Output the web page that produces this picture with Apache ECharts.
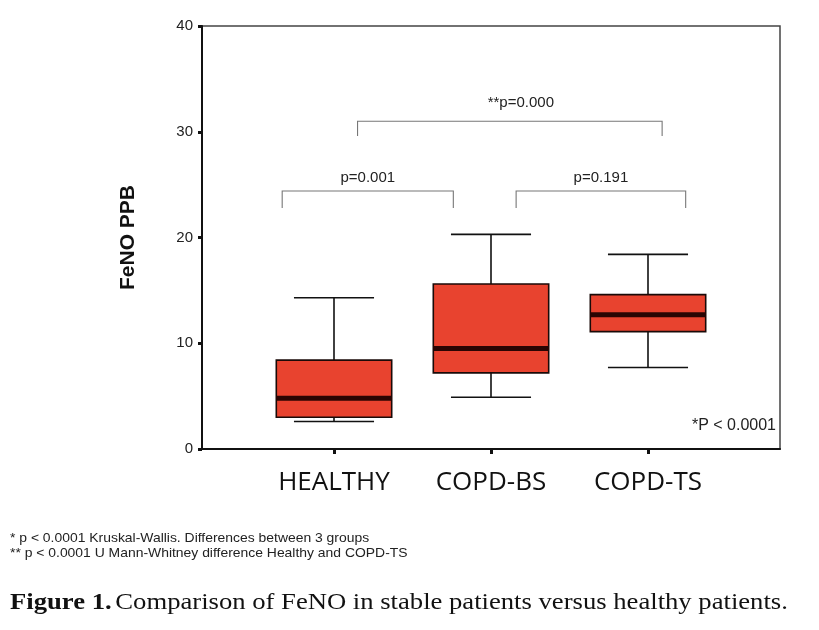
<!DOCTYPE html>
<html>
<head>
<meta charset="utf-8">
<script src="https://cdn.jsdelivr.net/npm/echarts@6/dist/echarts.min.js"></script>
<style>
  html, body { margin: 0; padding: 0; background: #fff; }
  #main { width: 819px; height: 630px; }
</style>
</head>
<body>
<div id="main"></div>
<script>
// groups and their box statistics (FeNO, ppb)
const categories = ['HEALTHY', 'COPD-BS', 'COPD-TS'];
const minVals    = [2.6, 4.9, 7.7];
const q1Vals     = [3.0, 7.2, 11.1];
const medianVals = [4.8, 9.5, 12.7];
const q3Vals     = [8.4, 15.6, 14.6];
const maxVals    = [14.3, 20.3, 18.4];
const yTicks     = [0, 10, 20, 30, 40];

// comparison brackets: [fromGroup, fromShift, toGroup, toShift, barY, endY, labelY, labelShift]
const bracketLabels = ['p=0.001', 'p=0.191', '**p=0.000'];
const brackets = [
  [0, -0.33, 1, -0.24, 24.4, 22.8, 25.6, 0],
  [1, 0.16, 2, 0.24, 24.4, 22.8, 25.6, 0],
  [0, 0.15, 2, 0.09, 31.0, 29.6, 32.7, 0.07]
];

const boxData = categories.map((c, i) =>
  [i, minVals[i], q1Vals[i], medianVals[i], q3Vals[i], maxVals[i]]);

const chart = echarts.init(document.getElementById('main'));

function renderBox(params, api) {
  const i = api.value(0);
  const band = api.size([1, 0])[0];
  const boxW = band * 0.735;
  const capW = band * 0.51;
  const cx = api.coord([i, 0])[0];
  const y = k => api.coord([i, api.value(k)])[1];
  const yMin = y(1), yQ1 = y(2), yMed = y(3), yQ3 = y(4), yMax = y(5);
  const line = { stroke: '#111', lineWidth: 1.6 };
  return {
    type: 'group',
    children: [
      { type: 'line', shape: { x1: cx, y1: yMax, x2: cx, y2: yQ3 }, style: line },
      { type: 'line', shape: { x1: cx, y1: yQ1, x2: cx, y2: yMin }, style: line },
      { type: 'line', shape: { x1: cx - capW / 2, y1: yMax, x2: cx + capW / 2, y2: yMax }, style: line },
      { type: 'line', shape: { x1: cx - capW / 2, y1: yMin, x2: cx + capW / 2, y2: yMin }, style: line },
      { type: 'rect', shape: { x: cx - boxW / 2, y: yQ3, width: boxW, height: yQ1 - yQ3 },
        style: { fill: '#e8432f', stroke: '#1a0a08', lineWidth: 1.6 } },
      { type: 'line', shape: { x1: cx - boxW / 2, y1: yMed, x2: cx + boxW / 2, y2: yMed },
        style: { stroke: '#2a0503', lineWidth: 5 } }
    ]
  };
}

function renderBracket(params, api) {
  const band = api.size([1, 0])[0];
  const x1 = api.coord([api.value(0), 0])[0] + api.value(1) * band;
  const x2 = api.coord([api.value(2), 0])[0] + api.value(3) * band;
  const yBar = api.coord([0, api.value(4)])[1];
  const yEnd = api.coord([0, api.value(5)])[1];
  const yLab = api.coord([0, api.value(6)])[1];
  const st = { stroke: '#777', lineWidth: 1.1, fill: null };
  return {
    type: 'group',
    children: [
      { type: 'polyline', shape: { points: [[x1, yEnd], [x1, yBar], [x2, yBar], [x2, yEnd]] }, style: st },
      { type: 'text', x: (x1 + x2) / 2 + api.value(7) * band, y: yLab,
        style: { text: bracketLabels[params.dataIndex], fill: '#222', font: '15px "Liberation Sans", Arial',
                 align: 'center', verticalAlign: 'middle' } }
    ]
  };
}

const footFont = '13px "Liberation Sans", Arial';

const option = {
  backgroundColor: '#fff',
  animation: false,
  grid: [
    { left: 255.5, right: 92.5, top: 26, bottom: 181 },
    { left: 202, right: 39, top: 26, bottom: 181, show: true, borderColor: '#444', borderWidth: 1.5,
      backgroundColor: 'transparent' }
  ],
  xAxis: [
    {
      type: 'category', gridIndex: 0, data: categories,
      axisLine: { show: false },
      axisTick: { show: true, alignWithLabel: true, length: 5, lineStyle: { color: '#111', width: 3 } },
      axisLabel: { color: '#111', fontSize: 26, fontFamily: '"Open Sans", sans-serif', margin: 21 },
      splitLine: { show: false }
    },
    {
      type: 'value', gridIndex: 1, min: 0, max: 1,
      axisLine: { show: true, lineStyle: { color: '#111', width: 2 } },
      axisTick: { show: false }, axisLabel: { show: false }, splitLine: { show: false }
    }
  ],
  yAxis: [
    { type: 'value', gridIndex: 0, min: 0, max: 40, show: false },
    {
      type: 'value', gridIndex: 1, min: yTicks[0], max: yTicks[yTicks.length - 1], interval: 10,
      name: 'FeNO PPB', nameLocation: 'middle', nameGap: 63,
      nameTextStyle: { fontSize: 21, fontWeight: 'bold', color: '#111', fontFamily: '"Liberation Sans", Arial' },
      axisLine: { show: true, lineStyle: { color: '#111', width: 2 } },
      axisTick: { show: true, length: 4, lineStyle: { color: '#111', width: 3 } },
      axisLabel: { color: '#222', fontSize: 15, fontFamily: '"Liberation Sans", Arial', margin: 9 },
      splitLine: { show: false }
    }
  ],
  series: [
    {
      type: 'custom', xAxisIndex: 0, yAxisIndex: 0, renderItem: renderBox,
      encode: { x: 0, y: [1, 2, 3, 4, 5] }, data: boxData, z: 3
    },
    {
      type: 'custom', xAxisIndex: 0, yAxisIndex: 0, renderItem: renderBracket,
      data: brackets, z: 3
    }
  ],
  graphic: [
    { type: 'text', x: 776, y: 426,
      style: { text: '*P < 0.0001', fill: '#222', font: '16px "Liberation Sans", Arial',
               align: 'right', verticalAlign: 'middle' } },
    { type: 'text', x: 10, y: 538, scaleX: 1.07,
      style: { text: '* p < 0.0001 Kruskal-Wallis. Differences between 3 groups', fill: '#222',
               font: footFont, verticalAlign: 'middle' } },
    { type: 'text', x: 10, y: 553, scaleX: 1.07,
      style: { text: '** p < 0.0001 U Mann-Whitney difference Healthy and COPD-TS', fill: '#222',
               font: footFont, verticalAlign: 'middle' } },
    { type: 'text', x: 10, y: 603, scaleX: 1.11,
      style: { rich: { b: { font: 'bold 24px "Liberation Serif", serif', fill: '#111' },
                       n: { font: '24px "Liberation Serif", serif', fill: '#111' } },
               text: '{b|Figure 1.} {n|Comparison of FeNO in stable patients versus healthy patients.}',
               verticalAlign: 'middle' } }
  ]
};

chart.setOption(option);
</script>
</body>
</html>
